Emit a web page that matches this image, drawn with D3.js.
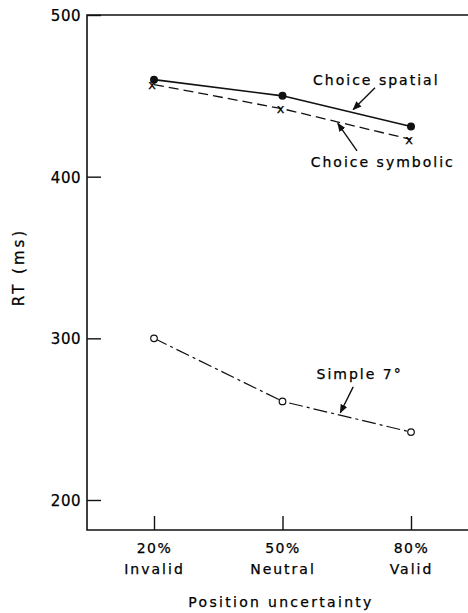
<!DOCTYPE html>
<html>
<head>
<meta charset="utf-8">
<script src="https://cdn.jsdelivr.net/npm/d3@7"></script>
<style>
  body { margin: 0; background: #fff; }
  text { font-family: "DejaVu Sans", sans-serif; fill: #000; stroke: #000; stroke-width: 0.25px; }
</style>
</head>
<body>
<div id="chart"></div>
<script>
// categories on the x axis
var pctLabels = ["20%", "50%", "80%"];
var cueLabels = ["Invalid", "Neutral", "Valid"];
var yTicks = [200, 300, 400, 500];

// RT values (ms)
var choiceSpatial = [460, 450, 431];
var choiceSymbolic = [457, 442, 423];
var simple7 = [300, 261, 242];

// annotation text + arrows, in data units (x = category index, y = ms)
var notes = [
  {text: "Choice spatial", x: 1.73, y: 457, ax1: 1.72, ay1: 455, ax2: 1.55, ay2: 441.5},
  {text: "Choice symbolic", x: 1.78, y: 406, ax1: 1.58, ay1: 416, ax2: 1.43, ay2: 433},
  {text: "Simple 7°", x: 1.60, y: 275, ax1: 1.55, ay1: 270, ax2: 1.45, ay2: 254}
];

var W = 468, H = 613;
var mLeft = 87, mTop = 15, mBottom = 530;

var svg = d3.select("#chart").append("svg")
  .attr("width", W).attr("height", H);

var defs = svg.append("defs");
defs.append("marker")
  .attr("id", "ah")
  .attr("viewBox", "0 0 10 10")
  .attr("refX", 9).attr("refY", 5)
  .attr("markerWidth", 9).attr("markerHeight", 9)
  .attr("markerUnits", "userSpaceOnUse")
  .attr("orient", "auto")
  .append("path").attr("d", "M0,1 L10,5 L0,9 Z").attr("fill", "#111");

var x = d3.scaleLinear().domain([0, 2]).range([154, 411]);
var y = d3.scaleLinear().domain([500, 200]).range([mTop, 500]);

// frame: top, left, bottom
svg.append("path")
  .attr("d", "M" + W + "," + y(500) + " L" + mLeft + "," + y(500) + " L" + mLeft + "," + mBottom + " L" + W + "," + mBottom)
  .attr("fill", "none").attr("stroke", "#111").attr("stroke-width", 1.6);

// y axis
var yAxis = svg.append("g")
  .attr("transform", "translate(" + mLeft + ",0)")
  .call(d3.axisRight(y).tickValues(yTicks).tickSize(14).tickFormat(""));
yAxis.select(".domain").remove();
yAxis.selectAll("line").attr("stroke", "#111").attr("stroke-width", 1.4);
yAxis.selectAll(".tick").append("text")
  .attr("x", -6).attr("dy", "0.36em")
  .attr("text-anchor", "end")
  .style("font-size", "15px").style("letter-spacing", "0.5px")
  .text(function(d) { return d; });

// x axis
var xAxis = svg.append("g")
  .attr("transform", "translate(0," + mBottom + ")")
  .call(d3.axisTop(x).tickValues([0, 1, 2]).tickSize(14).tickFormat(""));
xAxis.select(".domain").remove();
xAxis.selectAll("line").attr("stroke", "#111").attr("stroke-width", 1.4);
xAxis.selectAll(".tick").append("text")
  .attr("y", 23).attr("text-anchor", "middle")
  .style("font-size", "14px").style("letter-spacing", "1.5px")
  .text(function(d) { return pctLabels[d]; });
xAxis.selectAll(".tick").append("text")
  .attr("y", 44).attr("text-anchor", "middle")
  .style("font-size", "14px").style("letter-spacing", "2px")
  .text(function(d) { return cueLabels[d]; });

// axis titles
svg.append("text")
  .attr("x", 281).attr("y", 607)
  .attr("text-anchor", "middle")
  .style("font-size", "14px").style("letter-spacing", "2.3px")
  .text("Position uncertainty");
svg.append("text")
  .attr("transform", "translate(24,267) rotate(-90)")
  .attr("text-anchor", "middle")
  .style("font-size", "15px").style("letter-spacing", "3px")
  .text("RT (ms)");

var line = d3.line()
  .x(function(d, i) { return x(i); })
  .y(function(d) { return y(d); });

// choice spatial: solid, filled dots
svg.append("path").datum(choiceSpatial)
  .attr("d", line).attr("fill", "none")
  .attr("stroke", "#111").attr("stroke-width", 1.6);
svg.selectAll(".dot").data(choiceSpatial).enter().append("circle")
  .attr("cx", function(d, i) { return x(i); })
  .attr("cy", function(d) { return y(d); })
  .attr("r", 4).attr("fill", "#111");

// choice symbolic: dashed, x marks
svg.append("path").datum(choiceSymbolic)
  .attr("d", line).attr("fill", "none")
  .attr("stroke", "#111").attr("stroke-width", 1.3)
  .attr("stroke-dasharray", "10,5");
svg.selectAll(".xm").data(choiceSymbolic).enter().append("text")
  .attr("x", function(d, i) { return x(i) - 2; })
  .attr("y", function(d) { return y(d); })
  .attr("dy", "0.35em")
  .attr("text-anchor", "middle")
  .style("font-size", "13px")
  .text("x");

// simple 7°: dash-dot, open circles
svg.append("path").datum(simple7)
  .attr("d", line).attr("fill", "none")
  .attr("stroke", "#111").attr("stroke-width", 1.2)
  .attr("stroke-dasharray", "14,4,3,4");
svg.selectAll(".odot").data(simple7).enter().append("circle")
  .attr("cx", function(d, i) { return x(i); })
  .attr("cy", function(d) { return y(d); })
  .attr("r", 3.3).attr("fill", "#fff")
  .attr("stroke", "#111").attr("stroke-width", 1.2);

// annotations
notes.forEach(function(n) {
  svg.append("text")
    .attr("x", x(n.x)).attr("y", y(n.y))
    .attr("text-anchor", "middle")
    .style("font-size", "14px").style("letter-spacing", "2px")
    .text(n.text);
  svg.append("line")
    .attr("x1", x(n.ax1)).attr("y1", y(n.ay1))
    .attr("x2", x(n.ax2)).attr("y2", y(n.ay2))
    .attr("stroke", "#111").attr("stroke-width", 1.4)
    .attr("marker-end", "url(#ah)");
});
</script>
</body>
</html>
